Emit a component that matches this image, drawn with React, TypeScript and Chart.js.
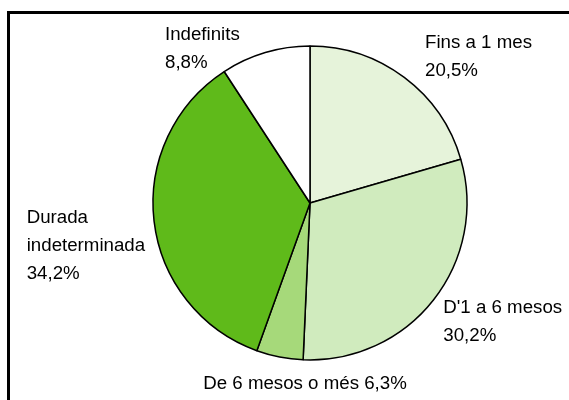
import React, { useEffect, useRef } from "react";
import { Chart, registerables } from "chart.js";

Chart.register(...registerables);

const categories = [
  "Fins a 1 mes",
  "D'1 a 6 mesos",
  "De 6 mesos o més",
  "Durada indeterminada",
  "Indefinits",
];
// slice sizes as drawn in the picture
const values = [20.5, 30.2, 4.8, 35.3, 9.2];
const valueLabels = ["20,5%", "30,2%", "6,3%", "34,2%", "8,8%"];
const colors = ["#e6f3da", "#d0ebbe", "#a6d97a", "#5fba1a", "#ffffff"];

// label layout: lines, alignment, offset from the pie centre
const labelLines = [
  ["Fins a 1 mes", "20,5%"],
  ["D'1 a 6 mesos", "30,2%"],
  ["De 6 mesos o més 6,3%"],
  ["Durada", "indeterminada", "34,2%"],
  ["Indefinits", "8,8%"],
];
const labelAlign: CanvasTextAlign[] = ["left", "left", "center", "left", "left"];
const labelDx = [115, 133.3, -5, -283.3, -145];
const labelDy = [-154.7, 110.3, 186, 20.3, -163];
const LINE_H = 27.7;
const FONT = '18.7px "Liberation Sans", Arial, sans-serif';

const framePlugin = {
  id: "frame",
  beforeDraw(chart: any) {
    const ctx = chart.ctx;
    ctx.save();
    ctx.fillStyle = "#ffffff";
    ctx.fillRect(0, 0, chart.width, chart.height);
    ctx.fillStyle = "#000000";
    ctx.fillRect(7, 11, chart.width - 7, 3);
    ctx.fillRect(7, 11, 3, chart.height - 11);
    ctx.restore();
  },
};

const labelPlugin = {
  id: "outLabels",
  afterDraw(chart: any) {
    const ctx = chart.ctx;
    const meta = chart.getDatasetMeta(0);
    ctx.save();
    ctx.font = FONT;
    ctx.fillStyle = "#000000";
    ctx.textBaseline = "alphabetic";
    meta.data.forEach((arc: any, i: number) => {
      ctx.textAlign = labelAlign[i];
      labelLines[i].forEach((line, j) => {
        ctx.fillText(line, arc.x + labelDx[i], arc.y + labelDy[i] + j * LINE_H);
      });
    });
    ctx.restore();
  },
};

export default function App() {
  const ref = useRef<HTMLCanvasElement | null>(null);
  useEffect(() => {
    if (!ref.current) return;
    const chart = new Chart(ref.current, {
      type: "pie",
      data: {
        labels: categories.map((c, i) => c + " " + valueLabels[i]),
        datasets: [
          {
            data: values,
            backgroundColor: colors,
            borderColor: "#000000",
            borderWidth: 1.5,
          },
        ],
      },
      options: {
        animation: false,
        responsive: false,
        devicePixelRatio: 1,
        radius: 157,
        layout: { padding: { left: 153, right: 102, top: 46, bottom: 40 } },
        plugins: {
          legend: { display: false },
          tooltip: { enabled: false },
        },
      },
      plugins: [framePlugin, labelPlugin],
    });
    return () => chart.destroy();
  }, []);
  return (
    <div style={{ position: "fixed", left: 0, top: 0, width: 569, height: 400, overflow: "hidden", background: "#fff" }}>
      <canvas ref={ref} width={569} height={400} style={{ display: "block" }} />
    </div>
  );
}
